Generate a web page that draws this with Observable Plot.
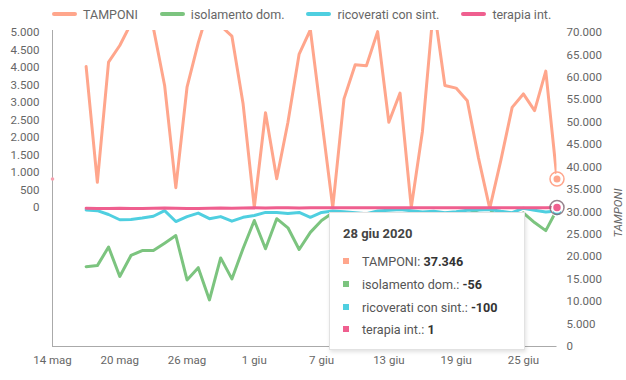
<!DOCTYPE html>
<html><head><meta charset="utf-8">
<script src="https://cdn.jsdelivr.net/npm/d3@7"></script>
<script src="https://cdn.jsdelivr.net/npm/@observablehq/plot@0.6"></script>
<style>
body{margin:0;background:#fff;font-family:Roboto,sans-serif;}
#wrap{position:relative;width:626px;height:380px;overflow:hidden;background:#fff}
#legend{position:absolute;left:52px;top:0;height:28px;display:flex;align-items:center;font-size:12.5px;color:#666;white-space:nowrap}
.item{display:flex;align-items:center;margin-right:22px}
.sw{width:25px;height:4px;border-radius:2px;margin-right:6px}
#chart{position:absolute;left:0;top:26px}
#tip{position:absolute;left:329px;top:212px;width:196px;height:138px;box-sizing:border-box;background:#fff;border:1px solid #e2e2e2;box-shadow:1px 2px 4px rgba(0,0,0,0.12);font-size:12.6px;color:#555}
#tip .ttl{position:absolute;left:13px;top:12px;height:18px;line-height:18px;font-weight:bold;font-size:13px;color:#444}
#tip .row{position:absolute;left:13px;height:18px;display:flex;align-items:center;white-space:nowrap}
#tip .sq{width:6px;height:6px;margin-right:13px}
#tip b{color:#333}
</style></head>
<body>
<div id="wrap">
  <div id="legend"></div>
  <div id="chart"></div>
  <div id="tip"></div>
</div>
<script>
// ---- data: daily values, 17 May 2020 - 28 Jun 2020 ----
const seriesNames = ["TAMPONI", "isolamento dom.", "ricoverati con sint.", "terapia int."];
const seriesColors = ["#ffa68c", "#7cc47f", "#4fcfe0", "#ef5f8f"];
const tamponi = [62400, 36600, 63400, 67100, 72000, 75000, 71000, 58200, 35400, 57800, 67700, 76000, 71500, 69200, 54100,
  31050, 52100, 37400, 50000, 65200, 70600, 50800, 31000, 55200, 62800, 62600, 70200, 50000, 56500, 31000, 48000, 76000, 58200, 57600, 54800, 42000, 30800, 41600, 53300, 56300, 52600, 61400, 37346];
const isolamento = [-1690, -1660, -1130, -1970, -1370, -1230, -1230, -1020, -800, -2070, -1720, -2640, -1440, -2040, -1170,
  -370, -1180, -320, -580, -1200, -710, -370, -150, -600, -900, -500, -700, -400, -800, -300, -900, -600, -700, -300, -200, -60, -40, -400, -300, -150, -430, -660, -56];
const ricoverati = [-70, -90, -200, -350, -340, -300, -250, -90, -400, -260, -160, -320, -260, -390, -280,
  -230, -140, -140, -170, -140, -280, -140, -100, -120, -150, -180, -100, -80, -60, -90, -130, -110, -150, -120, -80, -70, -60, -110, -150, -20, -80, -130, -100];
const terapia = [-20, -25, -30, -20, -25, -30, -20, -15, -20, -25, -30, -20, -15, -20, -15,
  -10, -15, -10, -5, -15, -10, -5, -10, -5, -10, -5, -10, -5, -5, -10, -5, -5, -10, -5, -5, -5, -5, -5, -5, -5, -5, -5, 1];
const leftTicks = [0, 500, 1000, 1500, 2000, 2500, 3000, 3500, 4000, 4500, 5000];
const rightTicks = [0, 5000, 10000, 15000, 20000, 25000, 30000, 35000, 40000, 45000, 50000, 55000, 60000, 65000, 70000];
const mesi = ["gen", "feb", "mar", "apr", "mag", "giu", "lug", "ago", "set", "ott", "nov", "dic"];
const firstDay = Date.UTC(2020, 4, 17);
const domainStart = new Date(Date.UTC(2020, 4, 14));
const domainEnd = new Date(Date.UTC(2020, 5, 28));
const xTicks = d3.utcDay.range(domainStart, domainEnd, 1).filter((d, i) => i % 6 === 0);

// ---- scales ----
const LMIN = -3971, LMAX = 5057, TMAX = 70446;
const toL = t => LMIN + t * (LMAX - LMIN) / TMAX;
const fromL = v => (v - LMIN) * TMAX / (LMAX - LMIN);
const fmt = d3.formatLocale({decimal: ",", thousands: ".", grouping: [3], currency: ["€", ""], minus: "-"}).format(",d");
const dayFmt = d => `${d.getUTCDate()} ${mesi[d.getUTCMonth()]}`;

const dates = tamponi.map((_, i) => new Date(firstDay + i * 864e5));
const rows = (arr, conv) => arr.map((v, i) => ({date: dates[i], v: conv ? conv(v) : v}));
const sTamp = rows(tamponi, toL), sIso = rows(isolamento), sRic = rows(ricoverati), sTer = rows(terapia);
const last = tamponi.length - 1;

const lineOpts = c => ({x: "date", y: "v", stroke: c, strokeWidth: 3, strokeLinejoin: "round", clip: true});

const chart = Plot.plot({
  width: 626, height: 354,
  marginTop: 4, marginBottom: 34, marginLeft: 52, marginRight: 69.5,
  style: {fontFamily: "Roboto, sans-serif", fontSize: "11.5px", color: "#666", background: "transparent"},
  x: {type: "utc", domain: [domainStart, domainEnd]},
  y: {domain: [LMIN, LMAX]},
  marks: [
    Plot.ruleX([domainStart], {stroke: "#aaa", strokeWidth: 1}),
    Plot.ruleY([LMIN], {stroke: "#aaa", strokeWidth: 1}),
    Plot.axisY(leftTicks, {anchor: "left", tickSize: 0, tickPadding: 13, tickFormat: fmt, fontSize: 11.5, label: null}),
    Plot.axisY(rightTicks.map(toL), {anchor: "right", tickSize: 0, tickPadding: 9.5, tickFormat: d => fmt(Math.round(fromL(d) / 100) * 100), fontSize: 11.5, label: null}),
    Plot.axisX(xTicks, {tickSize: 0, tickPadding: 9, tickFormat: dayFmt, fontSize: 11.5, label: null}),
    Plot.text(["TAMPONI"], {frameAnchor: "right", dx: 61, rotate: -90, fontStyle: "italic", fontSize: 11.5, fill: "#666"}),
    Plot.line(sTamp, lineOpts(seriesColors[0])),
    Plot.line(sIso, lineOpts(seriesColors[1])),
    Plot.line(sRic, lineOpts(seriesColors[2])),
    Plot.line(sTer, lineOpts(seriesColors[3])),
    Plot.dot([sTamp[last]], {x: () => domainStart, y: "v", r: 1.8, fill: "#f6a0ae"}),
    // hover markers on the last day
    Plot.dot([sTamp[last]], {x: "date", y: "v", r: 7, stroke: seriesColors[0], strokeWidth: 1.5, fill: "none"}),
    Plot.dot([sTamp[last]], {x: "date", y: "v", r: 4.5, fill: seriesColors[0], stroke: "#fff", strokeWidth: 2}),
    Plot.dot([sIso[last]], {x: "date", y: "v", r: 5, fill: seriesColors[1], stroke: "#fff", strokeWidth: 1.5}),
    Plot.dot([sRic[last]], {x: "date", y: "v", r: 5, fill: seriesColors[2], stroke: "#fff", strokeWidth: 1.5}),
    Plot.dot([sTer[last]], {x: "date", y: "v", r: 7, stroke: "#7d6470", strokeWidth: 1.5, fill: "none", strokeOpacity: 0.8}),
    Plot.dot([sTer[last]], {x: "date", y: "v", r: 4.5, fill: seriesColors[3], stroke: "#fff", strokeWidth: 1.5})
  ]
});
document.getElementById("chart").appendChild(chart);

// ---- legend ----
const legend = document.getElementById("legend");
seriesNames.forEach((n, i) => {
  const it = document.createElement("div");
  it.className = "item";
  it.innerHTML = `<span class="sw" style="background:${seriesColors[i]}"></span><span>${n}</span>`;
  legend.appendChild(it);
});

// ---- tooltip ----
const tip = document.getElementById("tip");
const ld = dates[last];
const lastVals = [tamponi[last], isolamento[last], ricoverati[last], terapia[last]];
let html = `<div class="ttl">${ld.getUTCDate()} ${mesi[ld.getUTCMonth()]} ${ld.getUTCFullYear()}</div>`;
const rowTops = [39, 62, 85, 107];
seriesNames.forEach((n, i) => {
  html += `<div class="row" style="top:${rowTops[i]}px"><span class="sq" style="background:${seriesColors[i]}"></span><span>${n}: <b>${fmt(lastVals[i])}</b></span></div>`;
});
tip.innerHTML = html;
</script>
</body></html>
